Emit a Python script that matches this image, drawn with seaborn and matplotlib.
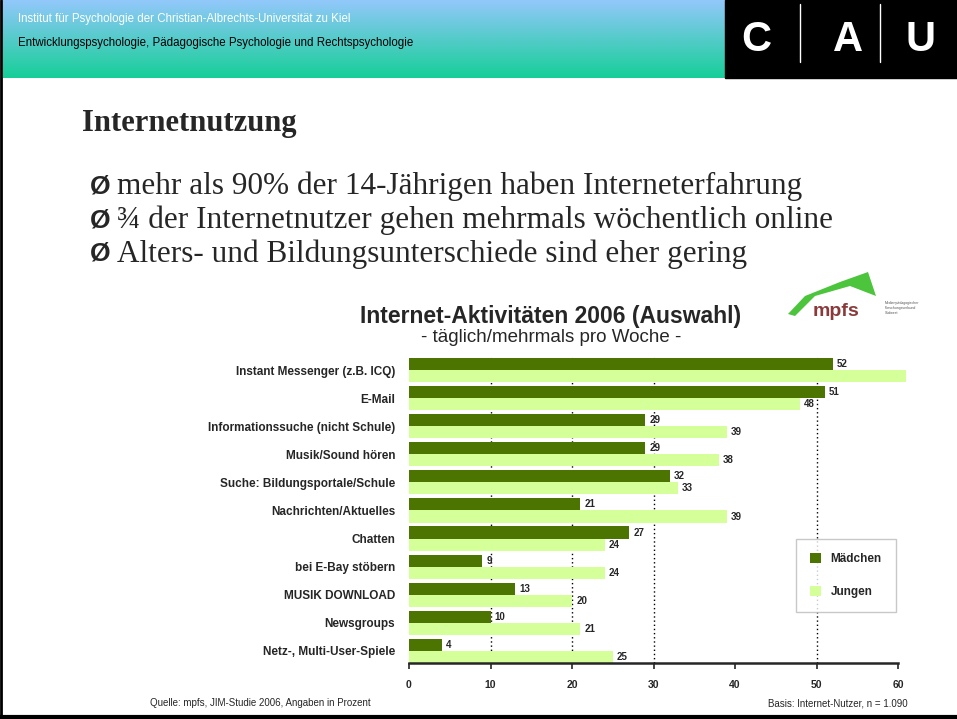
import numpy as np
import pandas as pd
import matplotlib.pyplot as plt
import seaborn as sns
from matplotlib.colors import LinearSegmentedColormap
from matplotlib.patches import Rectangle, Polygon
from matplotlib.lines import Line2D

# chart data
activities = [
    "Instant Messenger (z.B. ICQ)",
    "E-Mail",
    "Informationssuche (nicht Schule)",
    "Musik/Sound hören",
    "Suche: Bildungsportale/Schule",
    "Nachrichten/Aktuelles",
    "Chatten",
    "bei E-Bay stöbern",
    "MUSIK DOWNLOAD",
    "Newsgroups",
    "Netz-, Multi-User-Spiele",
]
maedchen = [52, 51, 29, 29, 32, 21, 27, 9, 13, 10, 4]
jungen = [61, 48, 39, 38, 33, 39, 24, 24, 20, 21, 25]
groups = ["Mädchen", "Jungen"]
x_ticks = [0, 10, 20, 30, 40, 50, 60]
grid_at = [10, 20, 30, 50]

header_1 = "Institut für Psychologie der Christian-Albrechts-Universität zu Kiel"
header_2 = "Entwicklungspsychologie, Pädagogische Psychologie und Rechtspsychologie"
slide_title = "Internetnutzung"
bullets = [
    "mehr als 90% der 14-Jährigen haben Interneterfahrung",
    "¾ der Internetnutzer gehen mehrmals wöchentlich online",
    "Alters- und Bildungsunterschiede sind eher gering",
]
chart_title = "Internet-Aktivitäten 2006 (Auswahl)"
chart_subtitle = "- täglich/mehrmals pro Woche -"
source = "Quelle: mpfs, JIM-Studie 2006, Angaben in Prozent"
basis = "Basis: Internet-Nutzer, n = 1.090"

W, H = 957, 719


def fx(x):
    return x / W


def fy(y):
    return 1 - y / H


sns.set_style("white")
plt.rcParams['font.family'] = ['Liberation Sans', 'DejaVu Sans']

fig = plt.figure(figsize=(9.57, 7.19), dpi=100)
fig.patch.set_facecolor("white")

# header band with gradient
hax = fig.add_axes([fx(3), fy(78), fx(722), 78 / H])
cmap = LinearSegmentedColormap.from_list("hdr", ["#92C8FB", "#16CF98"])
hax.imshow(np.linspace(0, 1, 100).reshape(-1, 1), aspect="auto", cmap=cmap,
           extent=[0, 1, 0, 1])
hax.set_axis_off()
fig.text(fx(18), fy(19), header_1, color="white", fontsize=8.3, va="center")
fig.text(fx(18), fy(43), header_2, color="black", fontsize=8.3, va="center")

# CAU logo box
fig.add_artist(Rectangle((fx(725), fy(78)), fx(232), 78 / H,
                         transform=fig.transFigure, color="black"))
for letter, x in zip(["C", "A", "U"], [756, 848, 920]):
    fig.text(fx(x), fy(40), letter, color="white", fontsize=30,
             fontweight="bold", ha="center", va="center")
for x in [800, 880]:
    fig.add_artist(Line2D([fx(x), fx(x)], [fy(4), fy(62)],
                          transform=fig.transFigure, color="white", lw=1))

# slide frame lines
fig.add_artist(Line2D([fx(1), fx(1)], [fy(0), fy(717)],
                      transform=fig.transFigure, color="black", lw=2))
fig.add_artist(Line2D([0, 1], [fy(717), fy(717)],
                      transform=fig.transFigure, color="black", lw=3))

# slide title and bullets
serif = ["Liberation Serif", "DejaVu Serif"]
fig.text(fx(82), fy(124), slide_title, fontsize=22, fontweight="bold",
         family=serif, va="center")
for i, b in enumerate(bullets):
    y = fy(186 + i * 34)
    fig.text(fx(90), y, "Ø", fontsize=19, fontweight="bold", va="center")
    fig.text(fx(117), y, b, fontsize=22.5, family=serif, va="center")

# mpfs logo
fig.add_artist(Polygon([(fx(788), fy(314)), (fx(805), fy(296)),
                        (fx(840), fy(282)), (fx(868), fy(272)),
                        (fx(876), fy(296)), (fx(850), fy(286)),
                        (fx(815), fy(296)), (fx(795), fy(316))],
                       closed=True, transform=fig.transFigure,
                       color="#4CC43C", lw=0))
fig.text(fx(813), fy(311), "mpfs", fontsize=14, fontweight="bold",
         color="#8A3A3A", va="center")
fig.text(fx(885), fy(308), "Medienpädagogischer\nForschungsverbund\nSüdwest",
         fontsize=2.5, color="#555555", va="center")

# chart titles
fig.text(fx(551), fy(316), chart_title, fontsize=16.5, fontweight="bold",
         ha="center", va="center")
fig.text(fx(551), fy(337), chart_subtitle, fontsize=13.5, ha="center",
         va="center")

# bar chart
df = pd.DataFrame({
    "Aktivität": activities * 2,
    "Gruppe": [groups[0]] * len(activities) + [groups[1]] * len(activities),
    "Prozent": maedchen + jungen,
})
ax = fig.add_axes([fx(409), fy(663), fx(898) - fx(409), (663 - 356) / H])
for g in grid_at:
    ax.axvline(g, color="black", ls=(0, (1, 2)), lw=1, zorder=0)
sns.barplot(data=df, y="Aktivität", x="Prozent", hue="Gruppe", orient="h",
            palette={"Mädchen": "#4B7500", "Jungen": "#D4FF99"},
            width=0.86, saturation=1, linewidth=0, ax=ax, zorder=2)
for cont in ax.containers:
    for p in cont:
        p.set_clip_on(False)
    for t in ax.bar_label(cont, padding=3, fontsize=7, fontweight="bold"):
        t.set_clip_on(False)

ax.set_xlim(0, 60)
ax.set_ylim(10.43, -0.5)
ax.set_xticks(x_ticks)
ax.set_xlabel("")
ax.set_ylabel("")
sns.despine(ax=ax, left=True)
ax.spines["bottom"].set_linewidth(1.8)
ax.tick_params(axis="x", length=4, width=1.2, direction="out",
               labelsize=7.5, pad=8, bottom=True)
ax.tick_params(axis="y", length=0, pad=10, labelsize=8.5)
for lab in ax.get_xticklabels() + ax.get_yticklabels():
    lab.set_fontweight("bold")
ax.set_facecolor("none")

ax.legend(loc="center left", bbox_to_anchor=(0.78, 0.285), frameon=True,
          edgecolor="#BBBBBB", fancybox=False, handlelength=0.9,
          handleheight=0.9, labelspacing=1.8, borderpad=1.2,
          prop={"size": 8.5, "weight": "bold"})

# footer
fig.text(fx(150), fy(703), source, fontsize=7, va="center")
fig.text(fx(908), fy(703), basis, fontsize=7, va="center", ha="right")

plt.savefig("out.png", dpi=100)
plt.close()
